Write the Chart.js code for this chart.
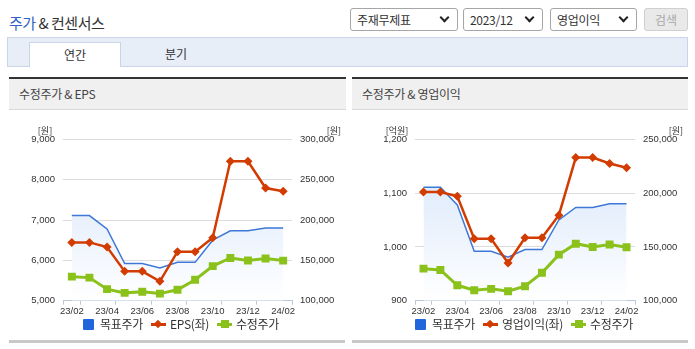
<!DOCTYPE html>
<html>
<head>
<meta charset="utf-8">
<title>주가 &amp; 컨센서스</title>
<script src="https://cdn.jsdelivr.net/npm/chart.js@4.4.0/dist/chart.umd.min.js"></script>
<style>
    body { margin: 0; width: 695px; height: 349px; position: relative; background: #fff; overflow: hidden;
           font-family: 'Noto Sans CJK KR', 'Noto Sans', sans-serif; color: #333; }
    .abs { position: absolute; }
    .title { left: 9px; top: 12px; font-size: 15px; line-height: 22px; letter-spacing: -0.5px; }
    .title b { font-weight: normal; color: #2f62c8; }
    .sel { top: 8px; height: 23px; box-sizing: border-box; border: 1px solid #a6a6a6; border-radius: 3px;
           font-size: 12px; line-height: 21px; padding-left: 6px; background: #fff; letter-spacing: -0.3px; }
    .sel i { position: absolute; right: 9px; top: 5px; width: 5px; height: 5px;
             border-right: 2px solid #222; border-bottom: 2px solid #222; transform: rotate(45deg); }
    .btn { left: 644px; top: 8px; width: 44px; height: 23px; box-sizing: border-box; border: 1px solid #cfcfcf;
           border-radius: 3px; background: #e9e9e9; color: #a8a8a8; font-size: 12px; line-height: 21px; text-align: center; }
    .tabbar { left: 7px; top: 37px; width: 681px; height: 30px; box-sizing: border-box;
              background: #e8eef8; border: 1px solid #c9d5e9; }
    .tab { top: 42px; height: 25px; box-sizing: border-box; font-size: 12px; line-height: 24px; text-align: center; }
    .tab.on { left: 29px; width: 92px; background: #fff; border: 1px solid #c9d5e9; border-bottom: none; }
    .panel { top: 77px; height: 33px; box-sizing: border-box; border-top: 2px solid #333;
             background: #f0f0f0; border-bottom: 1px solid #d9d9d9; font-size: 12px; line-height: 29px;
             padding-left: 10px; color: #444; letter-spacing: -0.3px; }
    .foot { top: 340px; height: 3px; background: #c8c8c8; }
    canvas.chart { position: absolute; top: 112px; }
    .legend { top: 316px; height: 16px; display: flex; justify-content: center; align-items: center;
              font-size: 12px; line-height: 16px; color: #333; letter-spacing: -0.3px; white-space: nowrap; }
    .legend span.item { display: flex; align-items: center; margin: 0 4px; }
    .sq { width: 11px; height: 11px; background: #2067dc; border-radius: 1px; margin-right: 6px; }
    .ln { position: relative; width: 15px; height: 10px; margin-right: 4px; }
    .ln:before { content: ''; position: absolute; left: 0; right: 0; top: 4px; height: 2.5px; }
    .ln:after { content: ''; position: absolute; }
    .ln.red:before { background: #d33c00; }
    .ln.red:after { left: 4px; top: 1.5px; width: 6px; height: 6px; background: #d33c00; transform: rotate(45deg); }
    .ln.green:before { background: #8ac11b; top: 3.5px; height: 3px; }
    .ln.green:after { left: 3.5px; top: 1px; width: 8px; height: 8px; background: #8ac11b; }
</style>
</head>
<body>
    <div class="abs title"><b>주가</b> &amp; 컨센서스</div>

    <div class="abs sel" style="left:350px;width:108px;">주재무제표<i></i></div>
    <div class="abs sel" style="left:463px;width:80px;">2023/12<i></i></div>
    <div class="abs sel" style="left:550px;width:87px;">영업이익<i></i></div>
    <div class="abs btn">검색</div>

    <div class="abs tabbar"></div>
    <div class="abs tab on">연간</div>
    <div class="abs tab" style="left:146px;width:60px;">분기</div>

    <div class="abs panel" style="left:9px;width:337px;">수정주가 &amp; EPS</div>
    <div class="abs panel" style="left:352px;width:336px;">수정주가 &amp; 영업이익</div>

    <canvas id="chartEps" class="chart" width="337" height="204" style="left:9px;"></canvas>
    <canvas id="chartOp" class="chart" width="336" height="204" style="left:352px;"></canvas>

    <div class="abs legend" style="left:61px;width:240px;">
        <span class="item"><span class="sq"></span>목표주가</span>
        <span class="item"><span class="ln red"></span>EPS(좌)</span>
        <span class="item"><span class="ln green"></span>수정주가</span>
    </div>
    <div class="abs legend" style="left:394px;width:260px;">
        <span class="item"><span class="sq"></span>목표주가</span>
        <span class="item"><span class="ln red"></span>영업이익(좌)</span>
        <span class="item"><span class="ln green"></span>수정주가</span>
    </div>

    <div class="abs foot" style="left:9px;width:336px;"></div>
    <div class="abs foot" style="left:352px;width:336px;"></div>

    <script>
        // 데이터
        const months = ['23/02', '23/03', '23/04', '23/05', '23/06', '23/07', '23/08',
                        '23/09', '23/10', '23/11', '23/12', '24/01', '24/02'];
        const targetPrice = [205500, 205500, 189000, 146000, 146000, 140500, 147500,
                             147500, 175000, 186700, 186700, 190000, 190000];
        const adjPrice = [129800, 128600, 114300, 109700, 111000, 108800, 113500,
                          125900, 142800, 153000, 149900, 152300, 149700];
        const eps = [6445, 6445, 6330, 5727, 5727, 5480, 6215, 6215, 6562, 8455, 8455, 7793, 7711];
        const opProfit = [1102, 1102, 1094, 1015, 1015, 970, 1017, 1017, 1059, 1166, 1166, 1155, 1147];

        // 축 범위 [최소, 최대, 간격]
        const epsAxis = [5000, 9000, 1000];
        const opAxis = [900, 1200, 100];
        const priceAxisEps = [100000, 300000, 50000];
        const priceAxisOp = [100000, 250000, 50000];

        const tickFont = { family: '"Liberation Sans Narrow", "Liberation Sans", sans-serif', size: 9.5 };
        const fmt = v => Number(v).toLocaleString('en-US');

        // 축 단위 표시
        const unitPlugin = {
            id: 'units',
            afterDraw(chart, args, opts) {
                const { ctx, chartArea, width } = chart;
                ctx.save();
                ctx.font = '9px "Noto Sans CJK KR"';
                ctx.fillStyle = '#333';
                ctx.textBaseline = 'middle';
                ctx.textAlign = 'center';
                ctx.fillText(opts.left, chartArea.left - 18, chartArea.top - 9);
                ctx.textAlign = 'right';
                ctx.fillText(opts.right, width - 5, chartArea.top - 9);
                ctx.restore();
            }
        };

        function makeChart(id, leftLabel, leftData, leftAxis, rightAxis, leftUnit, leftW, rightW) {
            return new Chart(document.getElementById(id), {
                type: 'line',
                data: {
                    labels: months,
                    datasets: [{
                        label: '목표주가',
                        data: targetPrice,
                        yAxisID: 'yR',
                        borderColor: '#3d78d8',
                        borderWidth: 1.5,
                        pointRadius: 0,
                        fill: 'start',
                        backgroundColor: ctx => {
                            const a = ctx.chart.chartArea;
                            if (!a) return 'rgba(0,0,0,0)';
                            const g = ctx.chart.ctx.createLinearGradient(0, a.top, 0, a.bottom);
                            g.addColorStop(0, '#d3e3fa');
                            g.addColorStop(1, '#ffffff');
                            return g;
                        },
                        order: 3
                    }, {
                        label: leftLabel,
                        data: leftData,
                        yAxisID: 'yL',
                        borderColor: '#d33c00',
                        borderWidth: 2.5,
                        pointStyle: 'rectRot',
                        pointRadius: 4.5,
                        pointBorderWidth: 0,
                        pointBackgroundColor: '#d33c00',
                        order: 1
                    }, {
                        label: '수정주가',
                        data: adjPrice,
                        yAxisID: 'yR',
                        borderColor: '#8ac11b',
                        borderWidth: 3,
                        pointStyle: 'rect',
                        pointRadius: 5.6,
                        pointBorderWidth: 0,
                        pointBackgroundColor: '#8ac11b',
                        order: 2
                    }]
                },
                options: {
                    responsive: false,
                    animation: false,
                    devicePixelRatio: 1,
                    layout: { padding: { top: 27.3, left: 0, right: 0, bottom: 0 } },
                    plugins: {
                        legend: { display: false },
                        tooltip: { enabled: false },
                        units: { left: leftUnit, right: '[원]' }
                    },
                    scales: {
                        x: {
                            offset: true,
                            grid: {
                                offset: true,
                                drawOnChartArea: false,
                                tickLength: 4,
                                color: c => (c.index === undefined || c.index === 0 || c.index % 2 === 1) ? '#b9c9dd' : 'rgba(0,0,0,0)'
                            },
                            border: { color: '#b9c9dd' },
                            ticks: {
                                autoSkip: false, maxRotation: 0, padding: 1, color: '#333', font: tickFont,
                                callback: (v, i) => i % 2 ? '' : months[i]
                            },
                            afterFit: s => { s.height = 15.3; }
                        },
                        yL: {
                            position: 'left',
                            min: leftAxis[0], max: leftAxis[1],
                            ticks: { stepSize: leftAxis[2], padding: 8, color: '#333', font: tickFont, callback: fmt },
                            grid: { drawTicks: false, color: c => c.index === 0 ? 'rgba(0,0,0,0)' : '#dcdcdc' },
                            border: { display: false },
                            afterFit: s => { s.width = leftW; }
                        },
                        yR: {
                            position: 'right',
                            min: rightAxis[0], max: rightAxis[1],
                            ticks: { stepSize: rightAxis[2], padding: 8, color: '#333', font: tickFont, callback: fmt },
                            grid: { drawOnChartArea: false, drawTicks: false },
                            border: { display: false },
                            afterFit: s => { s.width = rightW; }
                        }
                    }
                },
                plugins: [unitPlugin]
            });
        }

        makeChart('chartEps', 'EPS(좌)', eps, epsAxis, priceAxisEps, '[원]', 54, 54);
        makeChart('chartOp', '영업이익(좌)', opProfit, opAxis, priceAxisOp, '[억원]', 63, 53);
    </script>
</body>
</html>
